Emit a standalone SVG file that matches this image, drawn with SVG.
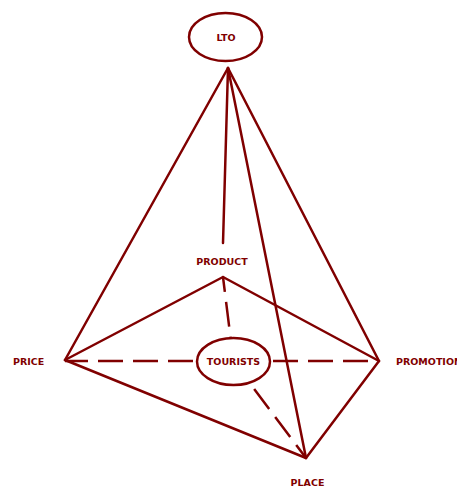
<svg xmlns="http://www.w3.org/2000/svg" width="457" height="486" viewBox="0 0 457 486">
<style>
.ln{stroke:#800000;stroke-width:2.5;fill:none;stroke-linecap:round}
.dash{stroke:#800000;stroke-width:2.5;fill:none;stroke-dasharray:25 10}
.nd{stroke:#800000;stroke-width:2.5;fill:#ffffff}
.lbl{font-family:"DejaVu Sans",Verdana,sans-serif;font-weight:bold;font-size:9.5px;fill:#800000}
</style>
<rect width="457" height="486" fill="#ffffff"/>
<g id="connectors">
<line class="ln" x1="228" y1="68" x2="65" y2="360"/>
<line class="ln" x1="228" y1="68" x2="379" y2="361"/>
<line class="ln" x1="228" y1="68" x2="306" y2="458"/>
<line class="ln" x1="228" y1="68" x2="223" y2="243"/>
<line class="ln" x1="223" y1="277" x2="65" y2="360"/>
<line class="ln" x1="223" y1="277" x2="379" y2="361"/>
<line class="ln" x1="65" y1="360" x2="306" y2="458"/>
<line class="ln" x1="379" y1="361" x2="306" y2="458"/>
<line class="dash" x1="65" y1="361" x2="379" y2="361" stroke-dashoffset="2"/>
<line class="dash" x1="223" y1="277" x2="233.5" y2="361.5" stroke-dashoffset="10"/>
<line class="dash" x1="233.5" y1="361.5" x2="306" y2="458" stroke-dashoffset="0.6"/>
</g>
<g id="lto">
<ellipse class="nd" cx="225.5" cy="37" rx="36.5" ry="24"/>
<text class="lbl" x="226" y="40.5" text-anchor="middle">LTO</text>
</g>
<g id="product">
<text class="lbl" x="222" y="265" text-anchor="middle">PRODUCT</text>
</g>
<g id="tourists">
<ellipse class="nd" cx="233.5" cy="361.5" rx="36.5" ry="23.5"/>
<text class="lbl" x="233.5" y="365" text-anchor="middle">TOURISTS</text>
</g>
<g id="price">
<text class="lbl" x="13" y="365">PRICE</text>
</g>
<g id="promotion">
<text class="lbl" x="396" y="365">PROMOTION</text>
</g>
<g id="place">
<text class="lbl" x="307.5" y="486" text-anchor="middle">PLACE</text>
</g>
</svg>
